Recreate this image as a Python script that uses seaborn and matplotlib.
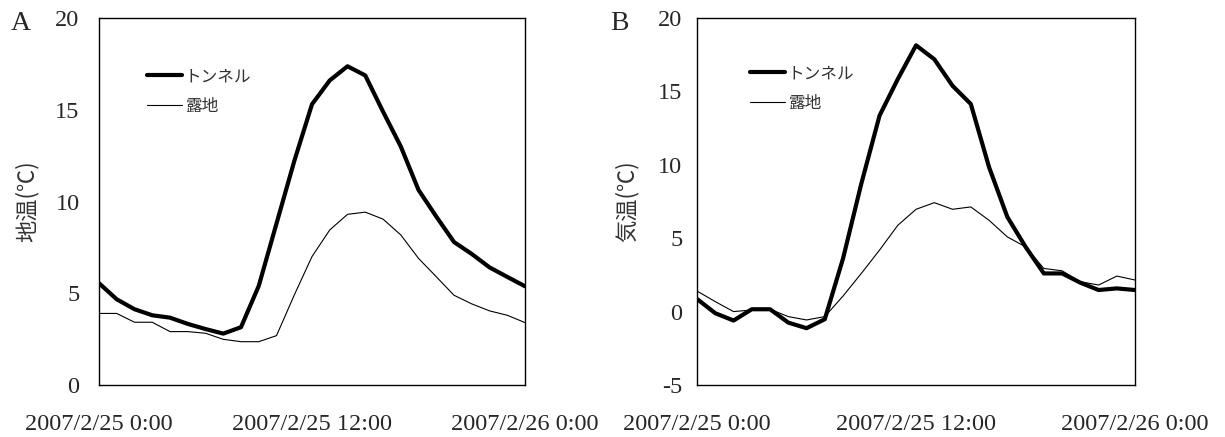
import pandas as pd
import matplotlib.pyplot as plt
import seaborn as sns

# hourly readings, 2007/2/25 0:00 -> 2007/2/26 0:00
times = pd.date_range("2007-02-25 00:00", "2007-02-26 00:00", freq="h")

# A: soil temperature
soil_tunnel = [5.55, 4.67, 4.13, 3.8, 3.67, 3.33, 3.05, 2.8, 3.15, 5.4, 8.8, 12.2,
               15.3, 16.6, 17.37, 16.87, 14.9, 13.0, 10.63, 9.18, 7.79, 7.14, 6.41, 5.89, 5.38]
soil_open = [3.9, 3.9, 3.42, 3.42, 2.91, 2.91, 2.82, 2.49, 2.36, 2.36, 2.69, 4.9,
             7.0, 8.45, 9.3, 9.42, 9.04, 8.18, 6.9, 5.9, 4.89, 4.42, 4.04, 3.8, 3.4]

# B: air temperature
air_tunnel = [0.86, -0.11, -0.61, 0.16, 0.16, -0.75, -1.13, -0.52, 3.62, 8.71, 13.35, 15.84,
              18.14, 17.19, 15.38, 14.14, 9.84, 6.45, 4.41, 2.6, 2.6, 1.97, 1.47, 1.58, 1.47]
air_open = [1.4, 0.68, 0.0, 0.11, 0.16, -0.34, -0.57, -0.34, 1.06, 2.6, 4.19, 5.88,
            6.97, 7.42, 6.97, 7.13, 6.22, 5.09, 4.41, 2.94, 2.78, 2.04, 1.81, 2.42, 2.15]

series_labels = ["トンネル", "露地"]
xtick_labels = ["2007/2/25 0:00", "2007/2/25 12:00", "2007/2/26 0:00"]

sns.set_style("white")
plt.rcParams['font.family'] = ['Liberation Serif', 'Noto Sans CJK JP']

fig = plt.figure(figsize=(12.25, 4.37), dpi=100)
ax_a = fig.add_axes([0.0808, 0.119, 0.3478, 0.8398])
ax_b = fig.add_axes([0.569, 0.119, 0.3576, 0.8398])


def draw(ax, tunnel, open_, ylim, yticks, ylabel, letter, ytick_pad, label_pad, leg_xy, letter_x):
    sns.lineplot(x=times, y=tunnel, color="black", linewidth=3.0, label=series_labels[0], ax=ax)
    sns.lineplot(x=times, y=open_, color="black", linewidth=0.8, label=series_labels[1], ax=ax)

    ax.set_xlim(times[0], times[-1])
    ax.set_ylim(*ylim)
    ax.set_xticks([times[0], times[12], times[24]])
    ax.set_xticklabels(xtick_labels, fontsize=17.5)
    ax.set_yticks(yticks)
    ax.set_yticklabels([str(v) for v in yticks], fontsize=17.5)
    ax.tick_params(axis="x", direction="in", length=6.5, width=1, pad=21, color="black")
    ax.tick_params(axis="y", direction="in", length=5.8, width=1, pad=ytick_pad, color="black")
    for s in ax.spines.values():
        s.set_color("black")
        s.set_linewidth(1)

    ax.set_xlabel("")
    ax.set_ylabel(ylabel, family=['Noto Sans CJK JP'], fontsize=16, color="#333333",
                  labelpad=label_pad)

    ax.legend(loc="upper left", bbox_to_anchor=leg_xy, frameon=False, borderpad=0,
              prop={'family': 'Noto Sans CJK JP', 'size': 12}, labelcolor="#333333",
              handlelength=2.15, handletextpad=0.15, labelspacing=0.75)
    ax.text(letter_x, 0.984, letter, transform=ax.transAxes, fontsize=20, va="center", ha="left")


draw(ax_a, soil_tunnel, soil_open, (0, 20), [0, 5, 10, 15, 20], "地温(℃)", "A", 14, 12,
     (0.092, 0.886), -0.207)
draw(ax_b, air_tunnel, air_open, (-5, 20), [-5, 0, 5, 10, 15, 20], "気温(℃)", "B", 10.5, 14,
     (0.101, 0.894), -0.198)

fig.savefig("out.png", dpi=100)
